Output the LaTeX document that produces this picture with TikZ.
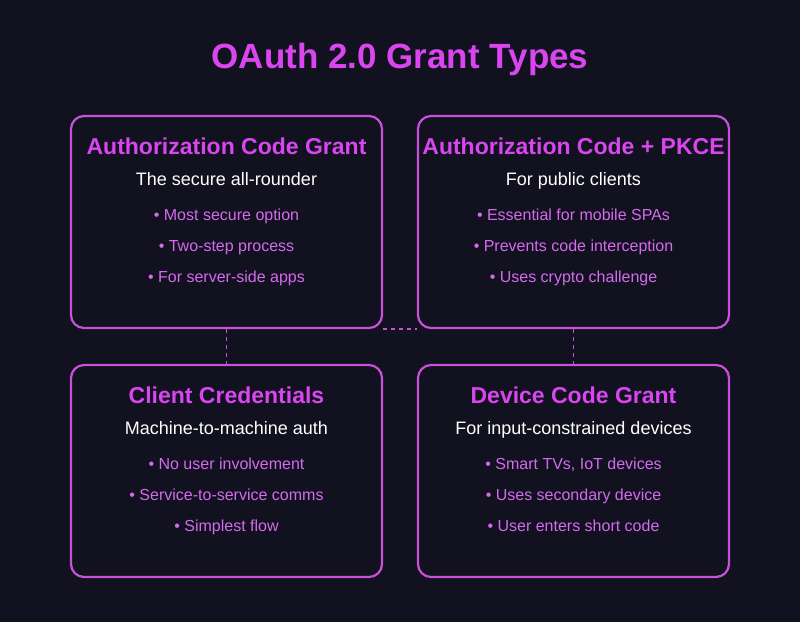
\documentclass[tikz,border=0pt]{standalone}
\usepackage{fontspec}
\setmainfont{Liberation Sans}
\definecolor{bg}{HTML}{11111F}
\definecolor{mag}{HTML}{D946EF}
\definecolor{edge}{HTML}{C850DC}
\definecolor{bul}{HTML}{D56AEE}
\tikzset{
 card/.style={draw=edge,line width=2.2pt,rounded corners=13pt,minimum width=311pt,minimum height=212pt},
 head/.style={anchor=base,text=mag,font=\bfseries\fontsize{23}{26}\selectfont},
 sub/.style={anchor=base,text=white,font=\fontsize{18}{21}\selectfont},
 bl/.style={anchor=base,text=bul,font=\fontsize{16}{19}\selectfont},
 link/.style={draw=edge,line width=1.8pt,dash pattern=on 4pt off 4pt}
}
\begin{document}
\begin{tikzpicture}[x=1pt,y=-1pt]
\fill[bg] (0,0) rectangle (800,622);
\useasboundingbox (0,0) rectangle (800,622);
\node[text=mag,font=\bfseries\fontsize{35}{40}\selectfont] (title) at (400,59) {OAuth 2.0 Grant Types};
\node[card] (b1) at (226.5,222) {};
\node[card] (b2) at (573.5,222) {};
\node[card] (b3) at (226.5,471) {};
\node[card] (b4) at (573.5,471) {};
\draw[link] (b1.south) -- (b3.north);
\draw[link] (b2.south) -- (b4.north);
\draw[link] (b1.south east) -- (b2.south west);
\foreach \b/\h/\s/\p/\q/\r in {
 b1/Authorization Code Grant/The secure all-rounder/Most secure option/Two-step process/For server-side apps,
 b2/Authorization Code + PKCE/For public clients/Essential for mobile SPAs/Prevents code interception/Uses crypto challenge,
 b3/Client Credentials/Machine-to-machine auth/No user involvement/Service-to-service comms/Simplest flow,
 b4/Device Code Grant/For input-constrained devices/{Smart TVs, IoT devices}/Uses secondary device/User enters short code}{
 \node[head] (\b h) at ([yshift=-40]\b.north) {\h};
 \node[sub] (\b s) at ([yshift=-71]\b.north) {\s};
 \node[bl] (\b p) at ([yshift=-106]\b.north) {• \p};
 \node[bl] (\b q) at ([yshift=-137]\b.north) {• \q};
 \node[bl] (\b r) at ([yshift=-168]\b.north) {• \r};
}
\end{tikzpicture}
\end{document}
